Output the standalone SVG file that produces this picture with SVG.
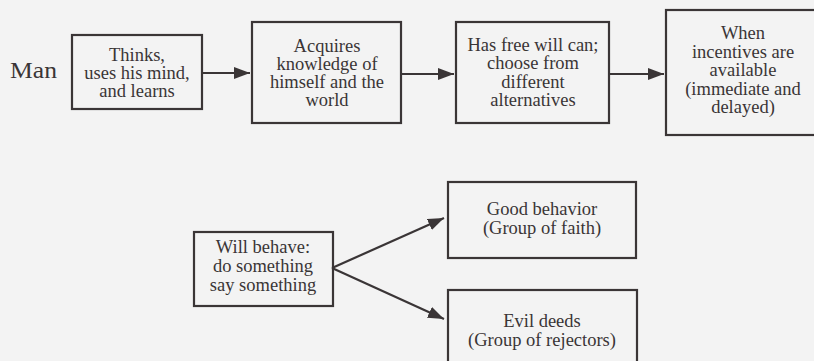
<svg xmlns="http://www.w3.org/2000/svg" width="814" height="361" viewBox="0 0 814 361" font-family="Liberation Serif, Times New Roman, serif">
<defs>
<style>
.box{fill:none;stroke:#3a3536;stroke-width:2.2}
.t{font-size:18.5px;fill:#3a3536;text-anchor:middle}
.c{stroke:#3a3536;stroke-width:2.2;fill:none}
</style>
<marker id="ah" markerUnits="userSpaceOnUse" markerWidth="18" markerHeight="14" refX="16" refY="6" orient="auto">
<path d="M0,0 L16,6 L0,12 Z" fill="#3a3536"/>
</marker>
</defs>
<rect width="814" height="361" fill="#f3f3f3"/>
<g id="man"><text x="10" y="78" font-size="23" fill="#3a3536" textLength="47" lengthAdjust="spacingAndGlyphs">Man</text></g>
<g id="n1"><rect class="box" x="72" y="35" width="130" height="74"/>
<text class="t" x="137" y="61">Thinks,<tspan x="137" dy="18">uses his mind,</tspan><tspan x="137" dy="18">and learns</tspan></text></g>
<g id="n2"><rect class="box" x="252" y="22" width="149" height="101"/>
<text class="t" x="327" y="52">Acquires<tspan x="327" dy="18">knowledge of</tspan><tspan x="327" dy="18">himself and the</tspan><tspan x="327" dy="18">world</tspan></text></g>
<g id="n3"><rect class="box" x="456" y="22" width="153" height="101"/>
<text class="t" x="533" y="51">Has free will can;<tspan x="533" dy="18">choose from</tspan><tspan x="533" dy="18.5">different</tspan><tspan x="533" dy="18.5">alternatives</tspan></text></g>
<g id="n4"><rect class="box" x="666" y="10" width="160" height="125"/>
<text class="t" x="743" y="39">When<tspan x="743" dy="18.5">incentives are</tspan><tspan x="743" dy="18.5">available</tspan><tspan x="743" dy="18.5">(immediate and</tspan><tspan x="743" dy="18.5">delayed)</tspan></text></g>
<g id="n5"><rect class="box" x="194" y="232" width="139" height="74"/>
<text class="t" x="263" y="253">Will behave:<tspan x="263" dy="19">do something</tspan><tspan x="263" dy="19">say something</tspan></text></g>
<g id="n6"><rect class="box" x="448" y="182" width="188" height="76"/>
<text class="t" x="542" y="215">Good behavior<tspan x="542" dy="18.5">(Group of faith)</tspan></text></g>
<g id="n7"><rect class="box" x="448" y="290" width="189" height="80"/>
<text class="t" x="542" y="327">Evil deeds<tspan x="542" dy="19">(Group of rejectors)</tspan></text></g>
<g id="connectors">
<line class="c" x1="202" y1="73" x2="250" y2="73" marker-end="url(#ah)"/>
<line class="c" x1="401" y1="74" x2="454" y2="74" marker-end="url(#ah)"/>
<line class="c" x1="609" y1="74" x2="664" y2="74" marker-end="url(#ah)"/>
<line class="c" x1="332" y1="268" x2="444" y2="218" marker-end="url(#ah)"/>
<line class="c" x1="332" y1="268" x2="444" y2="319" marker-end="url(#ah)"/>
</g>
</svg>
